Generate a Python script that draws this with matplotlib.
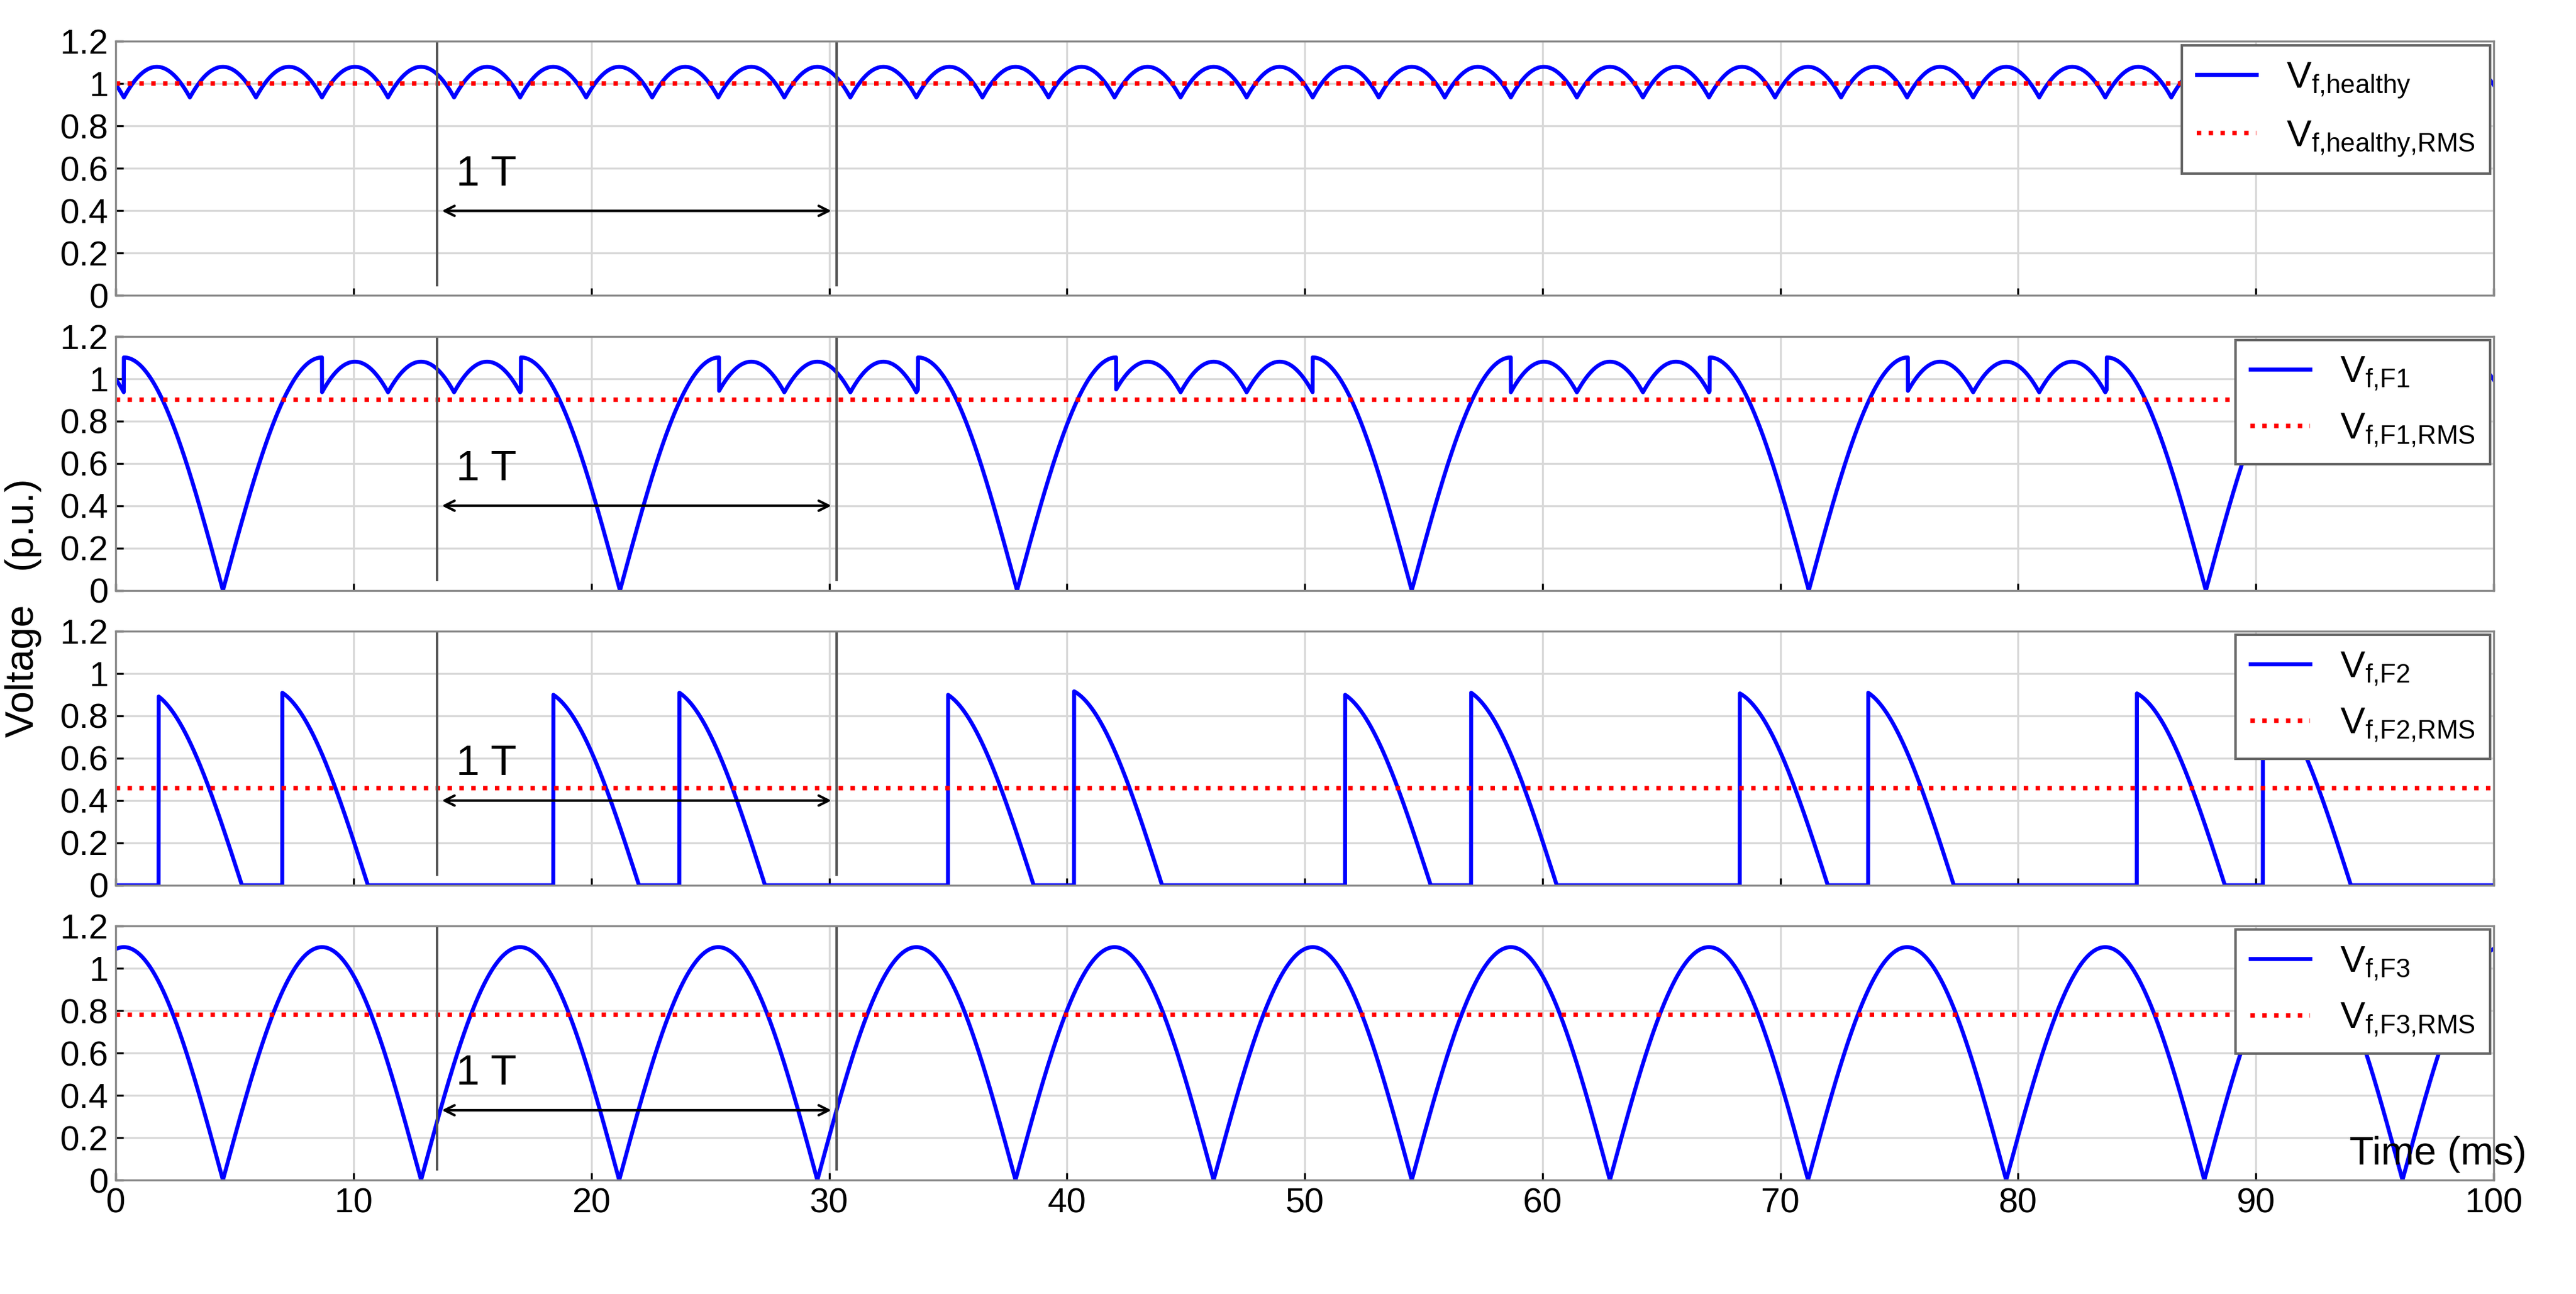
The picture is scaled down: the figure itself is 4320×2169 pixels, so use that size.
import numpy as np
import matplotlib
matplotlib.use("Agg")
import matplotlib.pyplot as plt

# ---- values ----
period_ms = 16.667            # supply period
amp_healthy = 1.08            # 6-pulse peak
amp_f1 = 1.1
f1_zero_times = [4.5, 21.2, 37.9, 54.5, 71.2, 87.9]
f2_pulse_on = [1.8, 7.0, 18.4, 23.7, 35.0, 40.3, 51.7, 57.0, 68.3, 73.7, 85.0, 90.3]
f2_pulse_zero = [5.3, 10.6, 22.0, 27.3, 38.6, 44.0, 55.3, 60.6, 72.0, 77.3, 88.7, 94.0]
f2_pulse_amp = [0.92, 0.93, 0.92, 0.93, 0.92, 0.93, 0.92, 0.93, 0.92, 0.93, 0.92, 0.93]
amp_f3 = 1.1
f3_first_zero = 4.5
rms_values = [1.0, 0.9, 0.46, 0.78]
series_names = ["healthy", "F1", "F2", "F3"]
yticks = [0, 0.2, 0.4, 0.6, 0.8, 1.0, 1.2]
ytick_labels = ["0", "0.2", "0.4", "0.6", "0.8", "1", "1.2"]
xticks = [0, 10, 20, 30, 40, 50, 60, 70, 80, 90, 100]
marker_lines = [13.5, 30.3]

t = np.linspace(0, 100, 20001)
w = 2 * np.pi / period_ms

def six_pulse(tt, amp, ref):
    ph = ((tt - ref) % (period_ms / 6)) - period_ms / 12
    return amp * np.cos(w * ph)

ref_peak = f1_zero_times[0] + period_ms / 4
v_h = six_pulse(t, amp_healthy, ref_peak)

v_f1 = six_pulse(t, amp_healthy, ref_peak)
for z in f1_zero_times:
    m = np.abs(t - z) <= period_ms / 4
    v_f1[m] = amp_f1 * np.abs(np.sin(w * (t[m] - z)))
m = t > f1_zero_times[-1] + period_ms - period_ms / 4
v_f1[m] = amp_f1 * np.abs(np.sin(w * (t[m] - f1_zero_times[-1] - period_ms)))

v_f2 = np.zeros_like(t)
for on, z, a in zip(f2_pulse_on, f2_pulse_zero, f2_pulse_amp):
    m = (t >= on) & (t <= z)
    v_f2[m] = a * np.sin(w * (z - t[m]))

v_f3 = amp_f3 * np.abs(np.sin(w * (t - f3_first_zero)))

waves = [v_h, v_f1, v_f2, v_f3]

plt.rcParams['font.family'] = ['Liberation Sans', 'DejaVu Sans']
plt.rcParams['mathtext.fontset'] = 'custom'
plt.rcParams['mathtext.rm'] = 'Liberation Sans'
fig, axes = plt.subplots(4, 1, figsize=(14.4, 7.23), dpi=300, sharex=True)
fig.subplots_adjust(left=0.045, right=0.968, top=0.968, bottom=0.088, hspace=0.16)

arrow_y = [0.4, 0.4, 0.4, 0.33]
for i, ax in enumerate(axes):
    ax.plot(t, waves[i], color="#0000ff", lw=1.6,
            label=r"$\mathregular{V_{f{,}%s}}$" % series_names[i])
    ax.axhline(rms_values[i], color="red", ls=":", lw=1.8,
               label=r"$\mathregular{V_{f{,}%s{,}RMS}}$" % series_names[i])
    for xm in marker_lines:
        ax.plot([xm, xm], [0.05, 1.2], color="#555555", lw=1.0)
    ax.annotate("", xy=(marker_lines[0], arrow_y[i]), xytext=(marker_lines[1], arrow_y[i]),
                arrowprops=dict(arrowstyle="<->", color="black", lw=1.0))
    ax.text(marker_lines[0] + 0.8, arrow_y[i] + 0.12, "1 T", fontsize=17)
    ax.set_xlim(0, 100)
    ax.set_ylim(0, 1.2)
    ax.set_yticks(yticks)
    ax.set_yticklabels(ytick_labels, fontsize=14)
    ax.set_xticks(xticks)
    ax.grid(True, color="#d8d8d8", lw=0.8)
    ax.tick_params(direction="in", length=3, labelsize=14, pad=3)
    for s in ax.spines.values():
        s.set_color("#888888")
    ax.legend(loc="upper right", fontsize=15, frameon=True, fancybox=False,
              edgecolor="#666666", framealpha=1, borderaxespad=0.1,
              handlelength=1.6, labelspacing=0.5)

axes[-1].set_xticklabels([str(x) for x in xticks], fontsize=14)
fig.text(0.912, 0.108, "Time (ms)", fontsize=16, ha="left", va="center")
fig.text(0.009, 0.53, "Voltage   (p.u.)", fontsize=16, rotation=90, ha="center", va="center")
fig.savefig("out.png", dpi=300)
